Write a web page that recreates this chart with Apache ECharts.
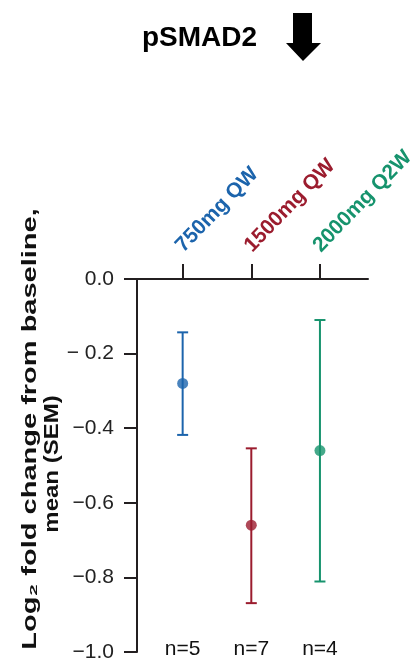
<!DOCTYPE html>
<html>
<head>
<meta charset="utf-8">
<script src="https://cdn.jsdelivr.net/npm/echarts@6/dist/echarts.min.js"></script>
<style>html,body{margin:0;padding:0;background:#fff;}#c{width:412px;height:659px;}</style>
</head>
<body>
<div id="c"></div>
<script>
// ---- data ----
var categories = ['750mg QW', '1500mg QW', '2000mg Q2W'];
var positions = [1, 2, 3];
var means = [-0.28, -0.66, -0.46];
var errLow = [-0.418, -0.869, -0.811];
var errHigh = [-0.143, -0.454, -0.110];
var nLabels = ['n=5', 'n=7', 'n=4'];
var yTicks = [0, -0.2, -0.4, -0.6, -0.8, -1.0];
var yTickLabels = ['0.0', '\u2212 0.2', '\u22120.4', '\u22120.6', '\u22120.8', '\u22121.0'];
var colors = ['#1c64ac', '#9b1c2e', '#16936d'];

var chart = echarts.init(document.getElementById('c'), null, {renderer: 'canvas'});
var FONT = '"Liberation Sans", Arial, Helvetica, sans-serif';
var rich = {};
colors.forEach(function (c, i) { rich['c' + i] = {color: c, fontSize: 21, fontWeight: 'bold', fontFamily: FONT, padding: [0, 0, 9, 0]}; });

var errData = positions.map(function (p, i) { return [p, errLow[i], errHigh[i], i]; });
var meanData = positions.map(function (p, i) { return {value: [p, means[i]], itemStyle: {color: colors[i]}}; });

chart.setOption({
  animation: false,
  title: {
    text: 'pSMAD2', left: 142, top: 24, padding: 0,
    textStyle: {fontFamily: FONT, fontSize: 28, fontWeight: 'bold', color: '#000'}
  },
  graphic: [
    {type: 'polygon', shape: {points: [[293, 13], [312, 13], [312, 43], [321, 43], [303, 61], [286, 43], [293, 43]]}, style: {fill: '#000'}},
    {type: 'text', x: 30, y: 429, rotation: Math.PI / 2, scaleX: 1.45,
      style: {text: 'Log\u2082 fold change from baseline,', fontFamily: FONT, fontSize: 20, fontWeight: 'bold', fill: '#111', align: 'center', verticalAlign: 'middle'}},
    {type: 'text', x: 52, y: 464, rotation: Math.PI / 2, scaleX: 1.2,
      style: {text: 'mean (SEM)', fontFamily: FONT, fontSize: 20, fontWeight: 'bold', fill: '#111', align: 'center', verticalAlign: 'middle'}}
  ],
  grid: {left: 137, right: 44, top: 279, bottom: 7, containLabel: false, outerBoundsMode: 'none'},
  xAxis: [{
    type: 'value', position: 'top', min: 0.335, max: 3.7,
    splitLine: {show: false},
    axisLine: {show: true, onZero: false, lineStyle: {color: '#231f20', width: 2}},
    axisTick: {show: true, customValues: positions, length: 15, inside: false, lineStyle: {color: '#231f20', width: 2}},
    axisLabel: {
      show: true, customValues: positions, rotate: -46, margin: 27, hideOverlap: false,
      formatter: function (v) { var i = positions.indexOf(v); return i < 0 ? '' : '{c' + i + '|' + categories[i] + '}'; },
      rich: rich
    }
  }, {
    type: 'value', position: 'bottom', min: 0.335, max: 3.7,
    splitLine: {show: false}, axisLine: {show: false}, axisTick: {show: false},
    axisLabel: {
      show: true, customValues: positions, margin: -13,
      formatter: function (v) { var i = positions.indexOf(v); return i < 0 ? '' : nLabels[i]; },
      fontFamily: FONT, fontSize: 21, color: '#111'
    }
  }],
  yAxis: {
    type: 'value', min: -1, max: 0, interval: 0.2,
    splitLine: {show: false},
    axisLine: {show: true, lineStyle: {color: '#231f20', width: 2}},
    axisTick: {show: true, length: 13, lineStyle: {color: '#231f20', width: 2}},
    axisLabel: {
      margin: 23, fontFamily: FONT, fontSize: 21, color: '#222',
      formatter: function (v) {
        for (var k = 0; k < yTicks.length; k++) { if (Math.abs(yTicks[k] - v) < 1e-6) return yTickLabels[k]; }
        return '';
      }
    }
  },
  series: [{
    type: 'custom', xAxisIndex: 0, yAxisIndex: 0,
    data: errData,
    encode: {x: 0, y: [1, 2]},
    renderItem: function (params, api) {
      var x = api.value(0), lo = api.value(1), hi = api.value(2), idx = api.value(3);
      var pLo = api.coord([x, lo]), pHi = api.coord([x, hi]);
      var hw = 5.5;
      var st = {stroke: colors[idx], lineWidth: 2};
      return {type: 'group', children: [
        {type: 'line', shape: {x1: pLo[0], y1: pLo[1], x2: pHi[0], y2: pHi[1]}, style: st},
        {type: 'line', shape: {x1: pLo[0] - hw, y1: pLo[1], x2: pLo[0] + hw, y2: pLo[1]}, style: st},
        {type: 'line', shape: {x1: pHi[0] - hw, y1: pHi[1], x2: pHi[0] + hw, y2: pHi[1]}, style: st}
      ]};
    },
    z: 2
  }, {
    type: 'scatter', xAxisIndex: 0, yAxisIndex: 0,
    data: meanData, symbol: 'circle', symbolSize: 11, z: 3
  }]
});
</script>
</body>
</html>
